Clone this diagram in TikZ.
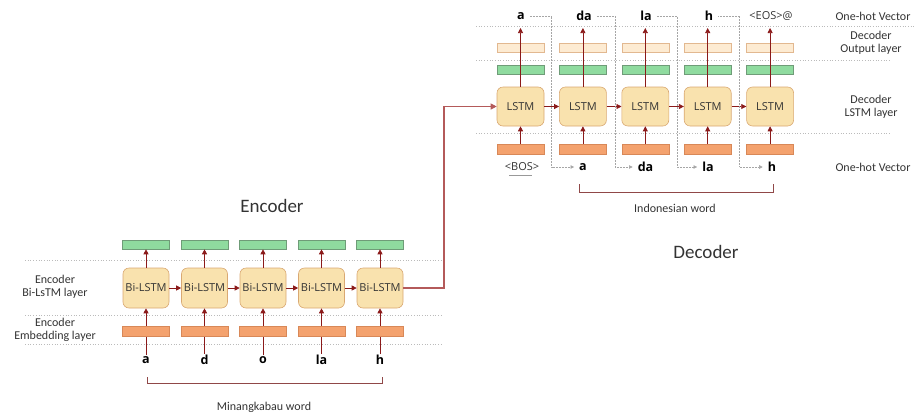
\documentclass[tikz,border=0pt]{standalone}
\usepackage{fontspec}
\setmainfont{Carlito}
\newfontfamily\osans{Open Sans}
\usetikzlibrary{arrows.meta}
\definecolor{lstmfill}{HTML}{F9E2AE}
\definecolor{lstmdraw}{HTML}{D9A872}
\definecolor{gfill}{HTML}{8FDB9F}
\definecolor{gdraw}{HTML}{6F9C78}
\definecolor{ofill}{HTML}{F4A26E}
\definecolor{odraw}{HTML}{D88858}
\definecolor{bfill}{HTML}{FDEBD2}
\definecolor{bdraw}{HTML}{E2B890}
\definecolor{ared}{HTML}{8B1A1A}
\definecolor{lred}{HTML}{B45A5A}
\definecolor{txt}{HTML}{333333}
\definecolor{sepc}{HTML}{BBBBBB}
\begin{document}
\begin{tikzpicture}[x=1pt,y=-1pt,
  cell/.style={draw=lstmdraw,fill=lstmfill,rounded corners=6pt,minimum width=46pt,minimum height=40pt,inner sep=0pt,line width=0.6pt,font=\osans\fontsize{11}{13}\selectfont,text=txt},
  greenbar/.style={draw=gdraw,fill=gfill,minimum width=47pt,minimum height=9pt,inner sep=0pt,line width=0.6pt},
  orangebar/.style={draw=odraw,fill=ofill,minimum width=47pt,minimum height=10pt,inner sep=0pt,line width=0.6pt},
  beigebar/.style={draw=bdraw,fill=bfill,minimum width=47pt,minimum height=9pt,inner sep=0pt,line width=0.6pt},
  sepline/.style={draw=sepc,dotted,line width=0.7pt},
  arr/.style={draw=ared,line width=0.7pt,-{Triangle[length=5pt,width=5pt]}},
  fb/.style={draw=gray!70,densely dotted,line width=0.5pt,-{Triangle[length=3.5pt,width=3.5pt]}},
  link/.style={draw=lred,line width=1.1pt,-{Triangle[length=6pt,width=6pt]}},
  brk/.style={draw=lred!80!black,line width=0.9pt},
  letter/.style={font=\osans\fontsize{12.5}{15}\selectfont\bfseries,text=black,inner sep=1pt},
  tok/.style={font=\osans\fontsize{11}{13}\selectfont,text=txt,inner sep=1pt},
  lab/.style={font=\fontsize{12}{14}\selectfont,text=txt,inner sep=0pt,align=center},
  head/.style={font=\fontsize{19}{22}\selectfont,text=txt,inner sep=0pt}
]
\useasboundingbox (0,0) rectangle (916,416);

% ---------------- separators ----------------
\draw[sepline] (25,260) -- (443,260);
\draw[sepline] (25,315) -- (443,315);
\draw[sepline] (25,344) -- (443,344);
\draw[sepline] (476,26) -- (914,26);
\draw[sepline] (476,60) -- (890,60);
\draw[sepline] (476,133) -- (890,133);

% ---------------- encoder ----------------
\foreach \i/\l in {0/a,1/d,2/o,3/la,4/h}{
  \pgfmathsetmacro{\xx}{146+58.5*\i}
  \node[cell] (ebl\i) at (\xx,288) {Bi-LSTM};
  \node[greenbar] (eg\i) at (\xx,244.5) {};
  \node[letter] (el\i) at (\xx,360) {\l};
  \draw[arr] (el\i.north) -- (ebl\i.south);
  \node[orangebar] (eo\i) at (\xx,331) {};
  \draw[arr] (ebl\i.north) -- (eg\i.south);
}
\foreach \i/\j in {0/1,1/2,2/3,3/4}{
  \draw[arr] (ebl\i.east) -- (ebl\j.west);
}
\node[head] (enchead) at (272,206) {Encoder};
\node[lab] (encl1) at (55,287) {Encoder\\[-1pt]Bi-LsTM layer};
\node[lab] (encl2) at (55,329.5) {Encoder\\[-1pt]Embedding layer};
\draw[brk] (147,377) -- (147,383) -- (382,383) -- (382,377);
\node[lab] (minw) at (264,407) {Minangkabau word};

% ---------------- decoder ----------------
\foreach \i in {0,...,4}{
  \pgfmathsetmacro{\xx}{520.5+62.4*\i}
  \node[cell,minimum width=47pt,minimum height=39pt] (dl\i) at (\xx,106.5) {LSTM};
  \node[greenbar] (dg\i) at (\xx,69.5) {};
  \node[beigebar] (db\i) at (\xx,47.5) {};
  \node[orangebar] (do\i) at (\xx,149) {};
  \coordinate (tp\i) at (\xx,28);
  \draw[arr] (do\i.north) -- (dl\i.south);
  \draw[arr] (dl\i.north) -- (tp\i);
}
\node[letter] (dt0) at (521,16) {a};
\node[letter] (dt1) at (584,16) {da};
\node[letter] (dt2) at (646,16) {la};
\node[letter] (dt3) at (709,16) {h};
\node[tok] (dt4) at (771,16) {<EOS>@};
\node[tok] (dbos) at (522,167) {<BOS>};
\draw[gray!80,line width=1.6pt] (509,175.5) -- (532,175.5);
\node[letter] (dw1) at (583,167) {a};
\node[letter] (dw2) at (645.5,167) {da};
\node[letter] (dw3) at (708,167) {la};
\node[letter] (dw4) at (772,167) {h};
\foreach \i/\j in {0/1,1/2,2/3,3/4}{
  \draw[arr] (dl\i.east) -- (dl\j.west);
}
\coordinate (m0) at (551.5,16);
\coordinate (m1) at (615,16);
\coordinate (m2) at (677,16);
\coordinate (m3) at (739.5,16);
\draw[fb,shorten <=4pt,shorten >=4pt] (dt0.east) -- (m0) |- (dw1.west);
\draw[fb,shorten <=4pt,shorten >=4pt] (dt1.east) -- (m1) |- (dw2.west);
\draw[fb,shorten <=4pt,shorten >=4pt] (dt2.east) -- (m2) |- (dw3.west);
\draw[fb,shorten <=4pt,shorten >=4pt] (dt3.east) -- (m3) |- (dw4.west);

\draw[brk] (579,184) -- (579,192) -- (773,192) -- (773,184);
\node[lab] (indw) at (675,208) {Indonesian word};
\node[head] (dechead) at (706,252) {Decoder};

\node[lab] (r1) at (873,16) {One-hot Vector};
\node[lab] (r2) at (871,43) {Decoder\\[-1pt]Output layer};
\node[lab] (r3) at (871,107) {Decoder\\[-1pt]LSTM layer};
\node[lab] (r4) at (873,167) {One-hot Vector};

% ---------------- encoder -> decoder ----------------
\coordinate (turn) at (444,106.5);
\draw[link] (ebl4.east) -| (turn) -- (dl0.west);
\end{tikzpicture}
\end{document}
